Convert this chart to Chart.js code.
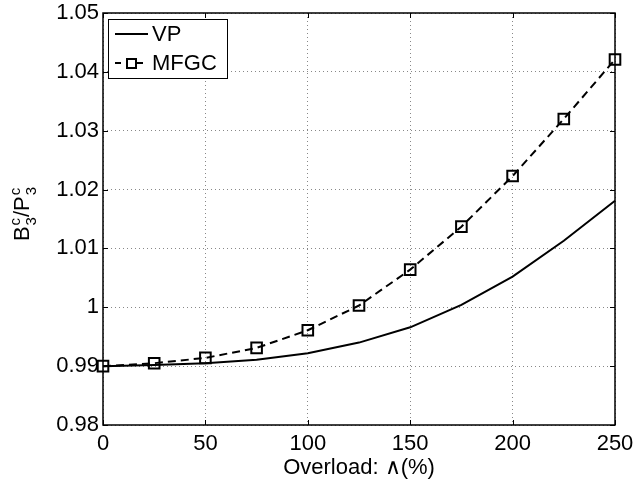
<!DOCTYPE html>
<html>
<head>
<meta charset="utf-8">
<script src="https://cdn.jsdelivr.net/npm/chart.js@4/dist/chart.umd.min.js"></script>
<style>
html,body{margin:0;padding:0;background:#fff;}
#wrap{width:634px;height:482px;position:relative;}
</style>
</head>
<body>
<div id="wrap"><canvas id="c" width="634" height="482"></canvas></div>
<script>
const overload = [0, 25, 50, 75, 100, 125, 150, 175, 200, 225, 250];
const vpValues = [0.9900, 0.9902, 0.9905, 0.9911, 0.9922, 0.9940, 0.9966, 1.0004, 1.0052, 1.0113, 1.0181];
const mfgcValues = [0.9900, 0.9905, 0.9914, 0.9931, 0.9961, 1.0003, 1.0064, 1.0137, 1.0223, 1.0320, 1.0421];
const seriesNames = ['VP', 'MFGC'];
const xTickValues = [0, 50, 100, 150, 200, 250];
const yTickValues = [0.98, 0.99, 1, 1.01, 1.02, 1.03, 1.04, 1.05];
const xTitle = 'Overload: \u2227(%)';
const yTitleParts = [['B', 'c', '3'], ['/P', 'c', '3']];

const FONT = '"Liberation Sans", Arial, Helvetica, sans-serif';
const FS = 22;

function zeroPad(s) { s.paddingLeft = 0; s.paddingRight = 0; s.paddingTop = 0; s.paddingBottom = 0; }

const framePlugin = {
  id: 'frame',
  afterDraw(chart) {
    const ctx = chart.ctx;
    const a = chart.chartArea;
    const xs = chart.scales.x, ys = chart.scales.y;
    ctx.save();
    // inward tick marks
    ctx.strokeStyle = '#000';
    ctx.lineWidth = 1;
    ctx.beginPath();
    xTickValues.forEach(v => {
      const px = Math.round(xs.getPixelForValue(v)) + 0.5;
      ctx.moveTo(px, a.bottom); ctx.lineTo(px, a.bottom - 5);
      ctx.moveTo(px, a.top); ctx.lineTo(px, a.top + 5);
    });
    yTickValues.forEach(v => {
      const py = Math.round(ys.getPixelForValue(v)) + 0.5;
      ctx.moveTo(a.left, py); ctx.lineTo(a.left + 5, py);
      ctx.moveTo(a.right, py); ctx.lineTo(a.right - 5, py);
    });
    ctx.stroke();
    // frame
    ctx.lineWidth = 1.5;
    ctx.strokeRect(a.left, a.top, a.right - a.left, a.bottom - a.top);

    // x title
    ctx.fillStyle = '#000';
    ctx.font = FS + 'px ' + FONT;
    ctx.textAlign = 'center';
    ctx.textBaseline = 'alphabetic';
    ctx.fillText(xTitle, (a.left + a.right) / 2, 474);

    // y title (rotated with super/subscripts)
    const big = FS + 'px ' + FONT;
    const small = Math.round(FS * 0.7) + 'px ' + FONT;
    let total = 0;
    const widths = yTitleParts.map(p => {
      ctx.font = big; const w1 = ctx.measureText(p[0]).width;
      ctx.font = small; const w2 = Math.max(ctx.measureText(p[1]).width, ctx.measureText(p[2]).width);
      total += w1 + w2;
      return [w1, w2];
    });
    ctx.translate(29, (a.top + a.bottom) / 2 - 4);
    ctx.rotate(-Math.PI / 2);
    ctx.textAlign = 'left';
    let x = -total / 2;
    yTitleParts.forEach((p, i) => {
      ctx.font = big; ctx.fillText(p[0], x, 0);
      x += widths[i][0];
      ctx.font = small;
      ctx.fillText(p[1], x + 1, -9);
      ctx.fillText(p[2], x + 1, 7);
      x += widths[i][1] + 1;
    });
    ctx.restore();

    // legend
    ctx.save();
    const lx = 108, ly = 19, lw = 119, lh = 59;
    ctx.fillStyle = '#fff';
    ctx.fillRect(lx, ly, lw, lh);
    ctx.strokeStyle = '#000';
    ctx.lineWidth = 1;
    ctx.strokeRect(lx + 0.5, ly + 0.5, lw, lh);
    ctx.font = FS + 'px ' + FONT;
    ctx.fillStyle = '#000';
    ctx.textAlign = 'left';
    ctx.textBaseline = 'middle';
    ctx.lineWidth = 2;
    // VP
    ctx.beginPath(); ctx.moveTo(115, 34); ctx.lineTo(148, 34); ctx.stroke();
    ctx.fillText(chart.data.datasets[0].label, 152, 35);
    // MFGC
    ctx.setLineDash([6, 5]);
    ctx.beginPath(); ctx.moveTo(115, 63); ctx.lineTo(148, 63); ctx.stroke();
    ctx.setLineDash([]);
    ctx.fillStyle = '#fff';
    ctx.fillRect(127, 59, 9, 9);
    ctx.strokeRect(127, 59, 9, 9);
    ctx.fillStyle = '#000';
    ctx.fillText(chart.data.datasets[1].label, 152, 64);
    ctx.restore();
  }
};

new Chart(document.getElementById('c'), {
  type: 'line',
  data: {
    datasets: [
      {
        label: seriesNames[0],
        data: overload.map((x, i) => ({x: x, y: vpValues[i]})),
        borderColor: '#000',
        borderWidth: 2,
        pointRadius: 0,
        tension: 0,
        fill: false,
        clip: false
      },
      {
        label: seriesNames[1],
        data: overload.map((x, i) => ({x: x, y: mfgcValues[i]})),
        borderColor: '#000',
        borderWidth: 2,
        borderDash: [8, 5],
        pointStyle: 'rect',
        pointRadius: 7.5,
        pointBorderWidth: 2,
        pointBorderColor: '#000',
        pointBackgroundColor: 'rgba(0,0,0,0)',
        tension: 0,
        fill: false,
        clip: false
      }
    ]
  },
  options: {
    responsive: false,
    animation: false,
    layout: {padding: {left: 0, top: 13, right: 19, bottom: 0}},
    plugins: {legend: {display: false}, tooltip: {enabled: false}},
    scales: {
      x: {
        type: 'linear', min: 0, max: 250,
        afterBuildTicks: s => { s.ticks = xTickValues.map(v => ({value: v})); },
        afterFit: s => { s.height = 57; zeroPad(s); },
        grid: {color: '#888', drawTicks: false, lineWidth: 1},
        border: {display: false, dash: [1, 3]},
        ticks: {color: '#000', font: {family: FONT, size: FS}, padding: 6, maxRotation: 0}
      },
      y: {
        type: 'linear', min: 0.98, max: 1.05,
        afterBuildTicks: s => { s.ticks = yTickValues.map(v => ({value: v})); },
        afterFit: s => { s.width = 103; zeroPad(s); },
        grid: {color: '#888', drawTicks: false, lineWidth: 1},
        border: {display: false, dash: [1, 3]},
        ticks: {color: '#000', font: {family: FONT, size: FS}, padding: 4,
          callback: v => String(Number(v.toFixed(2)))}
      }
    }
  },
  plugins: [framePlugin]
});
</script>
</body>
</html>
